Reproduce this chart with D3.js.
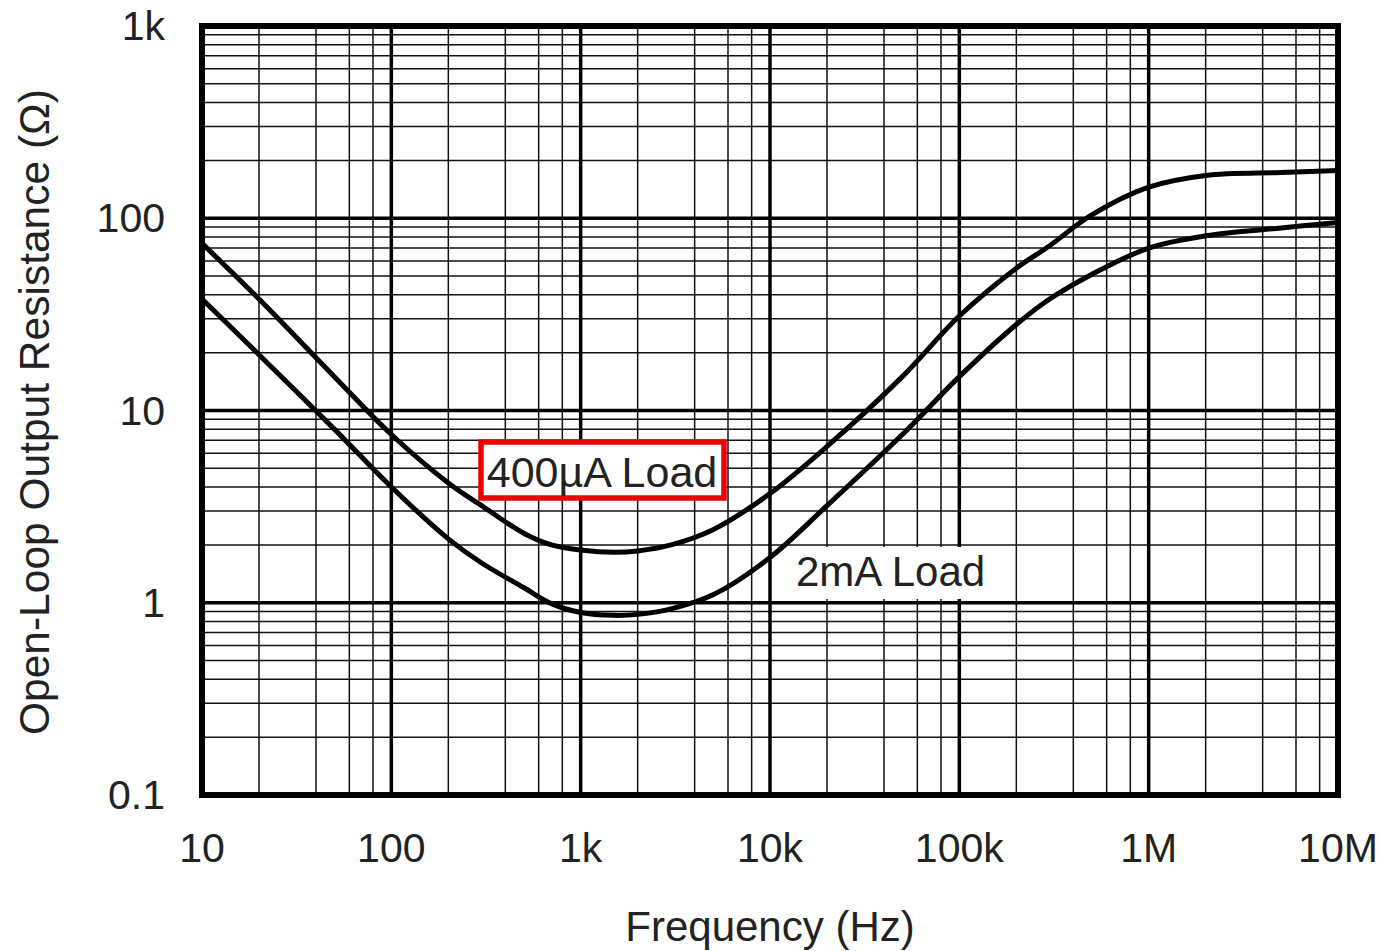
<!DOCTYPE html>
<html>
<head>
<meta charset="utf-8">
<script src="https://cdn.jsdelivr.net/npm/d3@7"></script>
<style>
  body { margin: 0; background: #fff; }
  text { font-family: "Liberation Sans", Arial, sans-serif; fill: #222; }
</style>
</head>
<body>
<svg id="chart" width="1391" height="951"></svg>
<script>
// frequency points (Hz) and resistance (ohm)
const freq = [10, 20, 50, 100, 200, 300, 500, 700, 1e3, 1.5e3, 2e3, 3e3, 5e3, 1e4, 2e4, 5e4, 1e5, 2e5, 3e5, 5e5, 1e6, 2e6, 5e6, 1e7];
const load400uA = [74, 38, 15, 7.5, 4.2, 3.2, 2.3, 2.0, 1.88, 1.83, 1.86, 2.0, 2.4, 3.7, 6.5, 15, 31, 55, 72, 104, 145, 167, 173, 177];
const load2mA = [38, 19.5, 8, 4, 2.15, 1.61, 1.2, 0.99, 0.89, 0.86, 0.87, 0.93, 1.1, 1.72, 3.2, 7.5, 15, 28, 38, 51, 70, 81, 89, 95];

const xTicks = [10, 100, 1e3, 1e4, 1e5, 1e6, 1e7];
const xTickLabels = ["10", "100", "1k", "10k", "100k", "1M", "10M"];
const yTicks = [0.1, 1, 10, 100, 1000];
const yTickLabels = ["0.1", "1", "10", "100", "1k"];

const plotLeft = 202, plotRight = 1338, plotTop = 26, plotBottom = 795;
const svg = d3.select("#chart");

const x = d3.scaleLog().domain([10, 1e7]).range([plotLeft, plotRight]);
const y = d3.scaleLog().domain([0.1, 1000]).range([plotBottom, plotTop]);

// minor grid
const xMinor = [];
for (let d = 10; d < 1e7; d *= 10) [2, 4, 6, 8].forEach(m => xMinor.push(d * m));
const yMinor = [];
for (let d = 0.1; d < 999; d *= 10) [2, 3, 4, 5, 6, 7, 8, 9].forEach(m => yMinor.push(d * m));

const grid = svg.append("g");
grid.selectAll("line.xm").data(xMinor).enter().append("line")
  .attr("x1", d => x(d)).attr("x2", d => x(d))
  .attr("y1", plotTop).attr("y2", plotBottom)
  .attr("stroke", "#111").attr("stroke-width", 1.5);
grid.selectAll("line.ym").data(yMinor).enter().append("line")
  .attr("y1", d => y(d)).attr("y2", d => y(d))
  .attr("x1", plotLeft).attr("x2", plotRight)
  .attr("stroke", "#111").attr("stroke-width", 1.5);

// decade lines
grid.selectAll("line.xd").data(xTicks).enter().append("line")
  .attr("x1", d => x(d)).attr("x2", d => x(d))
  .attr("y1", plotTop).attr("y2", plotBottom)
  .attr("stroke", "#000").attr("stroke-width", 3.5);
grid.selectAll("line.yd").data(yTicks).enter().append("line")
  .attr("y1", d => y(d)).attr("y2", d => y(d))
  .attr("x1", plotLeft).attr("x2", plotRight)
  .attr("stroke", "#000").attr("stroke-width", 3.5);

// white patch behind the 2mA label (under the curves)
svg.append("rect")
  .attr("x", 773).attr("y", 547)
  .attr("width", 232).attr("height", 52)
  .attr("fill", "#fff");

// curves
const line = d3.line()
  .x((d, i) => x(freq[i]))
  .y(d => y(d))
  .curve(d3.curveCatmullRom.alpha(0.5));

[load400uA, load2mA].forEach(s => {
  svg.append("path")
    .attr("d", line(s))
    .attr("fill", "none")
    .attr("stroke", "#000")
    .attr("stroke-width", 5)
    .attr("stroke-linejoin", "round");
});

// frame
svg.append("rect")
  .attr("x", plotLeft).attr("y", plotTop)
  .attr("width", plotRight - plotLeft).attr("height", plotBottom - plotTop)
  .attr("fill", "none").attr("stroke", "#000").attr("stroke-width", 6);

// tick labels
svg.selectAll("text.xt").data(xTicks).enter().append("text")
  .attr("x", d => x(d)).attr("y", 862)
  .attr("text-anchor", "middle")
  .attr("font-size", 41)
  .text((d, i) => xTickLabels[i]);

svg.selectAll("text.yt").data(yTicks).enter().append("text")
  .attr("x", 165).attr("y", d => y(d) + 14)
  .attr("text-anchor", "end")
  .attr("font-size", 41)
  .text((d, i) => yTickLabels[i]);

// axis titles
svg.append("text")
  .attr("x", 770).attr("y", 941)
  .attr("text-anchor", "middle")
  .attr("font-size", 42)
  .text("Frequency (Hz)");

svg.append("text")
  .attr("transform", "translate(49,412) rotate(-90)")
  .attr("text-anchor", "middle")
  .attr("font-size", 42.5)
  .text("Open-Loop Output Resistance (Ω)");

// series labels
svg.append("rect")
  .attr("x", 481).attr("y", 442)
  .attr("width", 243).attr("height", 56)
  .attr("fill", "#fff").attr("stroke", "#ee0000").attr("stroke-width", 5.5);
svg.append("text")
  .attr("x", 602).attr("y", 487)
  .attr("text-anchor", "middle")
  .attr("font-size", 43)
  .text("400µA Load");

svg.append("text")
  .attr("x", 796).attr("y", 586)
  .attr("font-size", 42)
  .text("2mA Load");
</script>
</body>
</html>
